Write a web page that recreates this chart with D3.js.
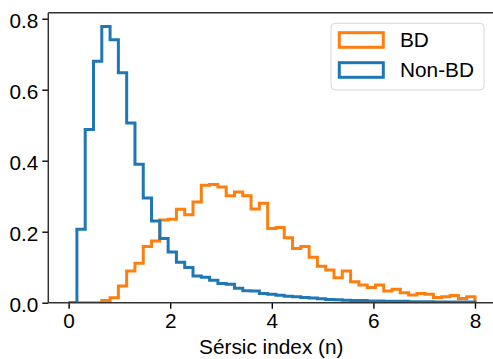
<!DOCTYPE html>
<html>
<head>
<meta charset="utf-8">
<script src="https://cdn.jsdelivr.net/npm/d3@7"></script>
<style>
  body { margin: 0; background: #fff; }
  text { font-family: "Liberation Sans", Arial, sans-serif; }
</style>
</head>
<body>
<svg width="493" height="359"></svg>
<script>
// bin edges: 49 equal bins from 0 to 8
var nBins = 49;
var binMin = 0, binMax = 8;

// normalised histogram heights per bin
var bdValues = [0, 0, 0, 0, 0.006, 0.014, 0.047, 0.089, 0.111, 0.158,
  0.174, 0.233, 0.235, 0.263, 0.248, 0.284, 0.331, 0.333, 0.326, 0.301,
  0.312, 0.301, 0.264, 0.280, 0.209, 0.212, 0.183, 0.153, 0.158, 0.128,
  0.103, 0.092, 0.070, 0.089, 0.059, 0.050, 0.043, 0.050, 0.033, 0.038,
  0.028, 0.022, 0.026, 0.024, 0.015, 0.017, 0.020, 0.012, 0.017];

var nonBdValues = [0, 0.207, 0.488, 0.680, 0.778, 0.741, 0.648, 0.506, 0.390, 0.295,
  0.230, 0.181, 0.143, 0.114, 0.099, 0.075, 0.072, 0.063, 0.054, 0.052,
  0.041, 0.034, 0.033, 0.026, 0.024, 0.021, 0.018, 0.017, 0.015, 0.013,
  0.011, 0.009, 0.008, 0.007, 0.006, 0.006, 0.005, 0.005, 0.004, 0.004,
  0.004, 0.003, 0.003, 0.003, 0.002, 0.002, 0.002, 0.002, 0.002];

var seriesNames = ["BD", "Non-BD"];
var seriesColors = ["#ff7f0e", "#1f77b4"];
var xTicks = [0, 2, 4, 6, 8];
var yTicks = [0, 0.2, 0.4, 0.6, 0.8];

var fontSize = "20.8px";

var svg = d3.select("svg");
var margin = { left: 48.3, top: 12.7 };
var plotW = 447, plotH = 290;

var g = svg.append("g").attr("transform", "translate(" + margin.left + "," + margin.top + ")");

var x = d3.scaleLinear().domain([-0.4, 8.4]).range([0, plotW]);
var yMax = d3.max(nonBdValues.concat(bdValues)) * 1.05;
var y = d3.scaleLinear().domain([0, yMax]).range([plotH, 0]);

var binW = (binMax - binMin) / nBins;

// step outline like matplotlib histtype="step"
function stepPoints(vals) {
  var pts = [[x(binMin), y(0)]];
  vals.forEach(function (v, i) {
    pts.push([x(binMin + i * binW), y(v)]);
    pts.push([x(binMin + (i + 1) * binW), y(v)]);
  });
  pts.push([x(binMax), y(0)]);
  return pts;
}

svg.append("defs").append("clipPath").attr("id", "clip")
  .append("rect").attr("width", plotW).attr("height", plotH);

var line = d3.line();
[bdValues, nonBdValues].forEach(function (vals, i) {
  g.append("path")
    .attr("clip-path", "url(#clip)")
    .attr("d", line(stepPoints(vals)))
    .style("fill", "none")
    .style("stroke", seriesColors[i])
    .style("stroke-width", 3)
    .style("stroke-linejoin", "miter");
});

// axes
var xAxis = g.append("g").attr("transform", "translate(0," + plotH + ")")
  .call(d3.axisBottom(x).tickValues(xTicks).tickSize(6).tickPadding(5).tickFormat(d3.format("d")));
var yAxis = g.append("g")
  .call(d3.axisLeft(y).tickValues(yTicks).tickSize(6).tickPadding(4).tickFormat(d3.format(".1f")));

[xAxis, yAxis].forEach(function (a) {
  a.select(".domain").remove();
  a.selectAll("line").attr("stroke", "#000").attr("stroke-width", 1.4);
  a.selectAll("text").attr("fill", "#000").style("font-size", fontSize);
});
yAxis.selectAll("text").attr("dy", "0.4em");
xAxis.selectAll("text").attr("dy", "0.71em");

// spines: left, bottom, top
g.append("line").attr("x1", 0).attr("x2", 0).attr("y1", 0).attr("y2", plotH)
  .attr("stroke", "#333").attr("stroke-width", 1.5);
g.append("line").attr("x1", 0).attr("x2", plotW).attr("y1", plotH).attr("y2", plotH)
  .attr("stroke", "#333").attr("stroke-width", 1.5);
g.append("line").attr("x1", 0).attr("x2", plotW).attr("y1", 0).attr("y2", 0)
  .attr("stroke", "#333").attr("stroke-width", 1.5);

svg.append("text")
  .attr("x", margin.left + plotW / 2 - 0.5)
  .attr("y", 354)
  .attr("text-anchor", "middle")
  .style("font-size", fontSize)
  .text("Sérsic index (n)");

// legend
var leg = svg.append("g").attr("transform", "translate(331,23.3)");
leg.append("rect")
  .attr("width", 153).attr("height", 66.7).attr("rx", 4)
  .attr("fill", "#fff").attr("fill-opacity", 0.8)
  .attr("stroke", "#d6d6d6").attr("stroke-width", 1);
seriesNames.forEach(function (name, i) {
  leg.append("rect")
    .attr("x", 8.3).attr("y", 9.4 + i * 30)
    .attr("width", 44).attr("height", 14.6)
    .attr("fill", "#fff")
    .attr("stroke", seriesColors[i]).attr("stroke-width", 3);
  leg.append("text")
    .attr("x", 69).attr("y", 16.7 + i * 30)
    .attr("dy", "0.36em")
    .style("font-size", fontSize)
    .text(name);
});
</script>
</body>
</html>
